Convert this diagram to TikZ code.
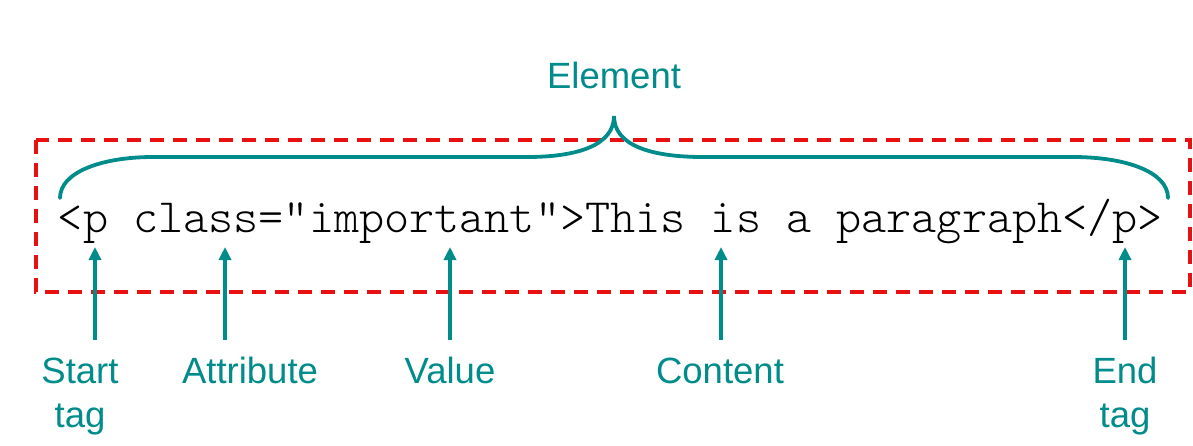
\documentclass[tikz,border=0pt]{standalone}
\usepackage{fontspec}
\setsansfont{Liberation Sans}
\newfontfamily\codefont{Latin Modern Mono Light}
\usetikzlibrary{arrows.meta}
\definecolor{tealc}{RGB}{0,140,138}
\definecolor{redc}{RGB}{232,16,16}
\begin{document}
\begin{tikzpicture}[x=0.5pt,y=-0.5pt,
  lbl/.style={text=tealc,font=\fontsize{18.25pt}{22pt}\selectfont\sffamily,inner sep=0pt,align=center},
  arr/.style={draw=tealc,line width=1.75pt,-{Triangle[width=6pt,length=6.5pt]}},
  bracec/.style={draw=tealc,line width=1.9pt,line cap=round},
  boxc/.style={draw=redc,line width=2pt,dash pattern=on 7pt off 4.5pt}]
\useasboundingbox (0,0) rectangle (1193,445);
% dashed box
\draw[boxc] (36,140) rectangle (1190,292);
% code text
\node[anchor=base west,inner sep=0pt,font=\fontsize{23.92pt}{25pt}\selectfont\codefont] (code) at (57.5,232) {<p class="important">This is a paragraph</p>};
% brace
\draw[bracec] (60,198) .. controls (60,172) and (102,157) .. (153,157) -- (527,157)
  .. controls (578,157) and (614,145) .. (614,116)
  .. controls (614,145) and (650,157) .. (703,157) -- (1073,157)
  .. controls (1126,157) and (1168,172) .. (1168,198);
\node[lbl,anchor=base] (element) at (614,88) {Element};
% labels
\node[lbl,anchor=base] (lstart) at (80,427) {Start\\tag};
\node[lbl,anchor=base] (lattr) at (250,383) {Attribute};
\node[lbl,anchor=base] (lvalue) at (450,383) {Value};
\node[lbl,anchor=base] (lcontent) at (720,383) {Content};
\node[lbl,anchor=base] (lend) at (1125,427) {End\\tag};
% arrows
\coordinate (sS) at (95,340);   \coordinate (tS) at (95,247);
\coordinate (sA) at (225,340);  \coordinate (tA) at (225,247);
\coordinate (sV) at (450,340);  \coordinate (tV) at (450,247);
\coordinate (sC) at (721,340);  \coordinate (tC) at (721,247);
\coordinate (sE) at (1125,340); \coordinate (tE) at (1125,247);
\draw[arr] (sS) -- (tS);
\draw[arr] (sA) -- (tA);
\draw[arr] (sV) -- (tV);
\draw[arr] (sC) -- (tC);
\draw[arr] (sE) -- (tE);
\end{tikzpicture}
\end{document}
